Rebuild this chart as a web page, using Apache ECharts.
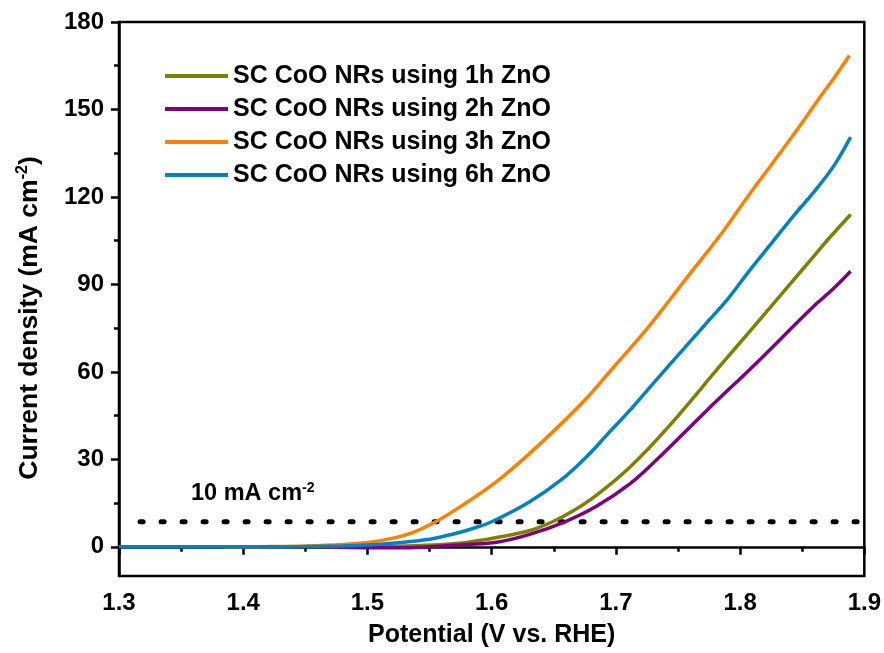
<!DOCTYPE html>
<html>
<head>
<meta charset="utf-8">
<script src="https://cdn.jsdelivr.net/npm/echarts@6/dist/echarts.min.js"></script>
<style>
  html, body { margin: 0; padding: 0; background: #fff; }
  #chart { width: 884px; height: 653px; }
</style>
</head>
<body>
<div id="chart"></div>
<script>
const seriesNames = [
  'SC CoO NRs using 1h ZnO',
  'SC CoO NRs using 2h ZnO',
  'SC CoO NRs using 3h ZnO',
  'SC CoO NRs using 6h ZnO'
];

const x1h = [1.47, 1.50, 1.53, 1.56, 1.58, 1.604, 1.630, 1.649, 1.665, 1.684, 1.711, 1.743, 1.783, 1.813, 1.840, 1.856, 1.872, 1.889];
const y1h = [0, 0.1, 0.3, 0.8, 1.5, 3.2, 5.5, 8.6, 12.2, 17.6, 27.2, 41.5, 61.6, 76.5, 90, 98, 106, 114];

const x2h = [1.47, 1.50, 1.53, 1.56, 1.58, 1.604, 1.630, 1.659, 1.684, 1.711, 1.732, 1.773, 1.813, 1.858, 1.875, 1.889];
const y2h = [0, -0.3, -0.3, 0.3, 0.8, 1.6, 4.2, 8.6, 13.8, 21.5, 29.5, 46.7, 63, 82, 88.5, 94.5];

const x3h = [1.385, 1.42, 1.45, 1.48, 1.50, 1.52, 1.537, 1.555, 1.577, 1.604, 1.630, 1.657, 1.677, 1.698, 1.724, 1.743, 1.764, 1.786, 1.806, 1.826, 1.845, 1.864, 1.876, 1.888];
const y3h = [0, 0.1, 0.3, 0.8, 1.5, 2.9, 5.0, 8.6, 14.4, 22.4, 31.8, 42.6, 51.2, 61.5, 74.2, 84.5, 96, 108, 120, 131.5, 142.5, 154, 161, 168.5];

const x6h = [1.30, 1.35, 1.40, 1.45, 1.48, 1.50, 1.52, 1.55, 1.57, 1.585, 1.60, 1.63, 1.657, 1.676, 1.693, 1.711, 1.731, 1.751, 1.771, 1.791, 1.808, 1.826, 1.843, 1.861, 1.876, 1.889];
const y6h = [0, 0, 0, 0.1, 0.3, 0.6, 1.2, 2.6, 4.5, 6.3, 8.6, 15.3, 23.3, 30.7, 38.5, 46.7, 56.5, 66.2, 75.8, 85.5, 95, 104.5, 113.5, 122.5, 131, 140.5];

const colors = ['#808000', '#800080', '#ff8000', '#0082c8'];

const yMajorTicks = [0, 30, 60, 90, 120, 150, 180];
const yMinorTicks = [15, 45, 75, 105, 135, 165];

// 10 mA cm-2 reference level (as drawn)
const refLevel = 8.6;
const refXStart = 1.317;
const refXEnd = 1.9;

const zip = (xs, ys) => xs.map((x, i) => [x, ys[i]]);
const allData = [zip(x1h, y1h), zip(x2h, y2h), zip(x3h, y3h), zip(x6h, y6h)];

const FONT = '"Liberation Sans", Arial, sans-serif';

const chart = echarts.init(document.getElementById('chart'));

const lineSeries = seriesNames.map((name, i) => ({
  name: name,
  type: 'line',
  data: allData[i],
  smooth: 0.35,
  showSymbol: false,
  lineStyle: { color: colors[i], width: 3.5 },
  itemStyle: { color: colors[i] },
  z: 3 + i
}));

const option = {
  animation: false,
  backgroundColor: '#fff',
  grid: {
    left: 119, right: 18, top: 22, bottom: 77,
    show: true, borderColor: '#000', borderWidth: 2.5
  },
  legend: {
    data: seriesNames,
    orient: 'vertical',
    left: 160,
    top: 57,
    icon: 'rect',
    itemWidth: 63,
    itemHeight: 4,
    itemGap: 5,
    textStyle: { fontFamily: FONT, fontWeight: 'bold', fontSize: 25, color: '#000', lineHeight: 28 }
  },
  xAxis: {
    type: 'value',
    min: 1.3, max: 1.9, interval: 0.1,
    name: 'Potential (V vs. RHE)',
    nameLocation: 'middle',
    nameGap: 47,
    nameTextStyle: { fontFamily: FONT, fontWeight: 'bold', fontSize: 25, color: '#000' },
    axisLine: { lineStyle: { color: '#000', width: 2.5 } },
    axisTick: { inside: false, length: 8, lineStyle: { color: '#000', width: 2.5 } },
    minorTick: { show: true, splitNumber: 2, length: 5, lineStyle: { color: '#000', width: 2.5 } },
    axisLabel: {
      margin: 15,
      fontFamily: FONT, fontWeight: 'bold', fontSize: 24, color: '#000',
      formatter: v => v.toFixed(1)
    },
    splitLine: { show: false }
  },
  yAxis: [{
    type: 'value',
    min: -10, max: 180,
    name: 'Current density (mA cm{sup|-2})',
    nameLocation: 'middle',
    nameGap: 74,
    nameTextStyle: {
      fontFamily: FONT, fontWeight: 'bold', fontSize: 26.5, color: '#000',
      padding: [0, 38, 0, 0],
      rich: { sup: { fontFamily: FONT, fontWeight: 'bold', fontSize: 16, color: '#000', verticalAlign: 'top', padding: [0, 0, 14, 0] } }
    },
    axisLine: { lineStyle: { color: '#000', width: 2.5 } },
    axisTick: { customValues: yMajorTicks, length: 8, lineStyle: { color: '#000', width: 2.5 } },
    axisLabel: {
      customValues: yMajorTicks,
      margin: 15,
      fontFamily: FONT, fontWeight: 'bold', fontSize: 24, color: '#000'
    },
    splitLine: { show: false }
  }, {
    type: 'value',
    position: 'left',
    min: -10, max: 180,
    axisLine: { show: false },
    axisTick: { customValues: yMinorTicks, length: 5, lineStyle: { color: '#000', width: 2.5 } },
    axisLabel: { show: false },
    splitLine: { show: false }
  }],
  series: lineSeries.concat([{
    name: 'ref',
    type: 'line',
    data: [[refXStart, refLevel], [refXEnd, refLevel]],
    showSymbol: false,
    silent: true,
    lineStyle: { color: '#000', width: 5, type: [3, 18], cap: 'round' },
    z: 1
  }]),
  graphic: [{
    type: 'text',
    left: 191,
    top: 481,
    style: {
      text: '10 mA cm{sup|-2}',
      fontFamily: FONT, fontWeight: 'bold', fontSize: 23.5, fill: '#000',
      rich: { sup: { fontFamily: FONT, fontWeight: 'bold', fontSize: 14, fill: '#000', verticalAlign: 'top', padding: [0, 0, 12, 0] } }
    }
  }]
};

chart.setOption(option);
</script>
</body>
</html>
